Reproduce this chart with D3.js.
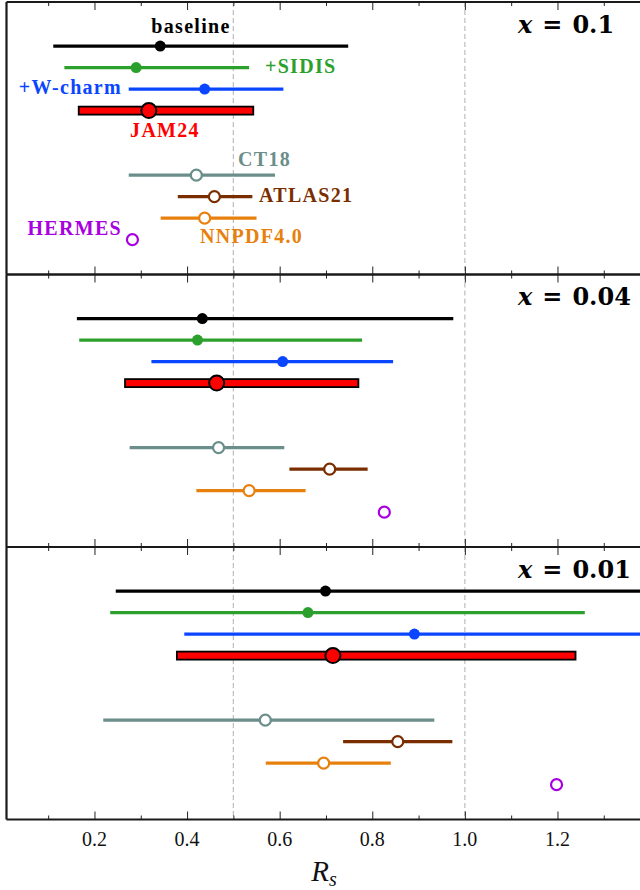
<!DOCTYPE html>
<html>

<head>
	<meta charset='utf-8'>
	<style>
		body {
			margin: 0;
			background-color: white;
		}

		svg {
			display: block;
		}
	</style>
</head>

<body>
	<svg></svg>
	<script src="https://d3js.org/d3.v7.min.js"></script>
	<script>
		// values
		var seriesNames = ['baseline', '+SIDIS', '+W-charm', 'JAM24', 'CT18', 'ATLAS21', 'NNPDF4.0', 'HERMES'];
		var panelTitles = ['0.1', '0.04', '0.01'];
		var xTicks = [0.2, 0.4, 0.6, 0.8, 1.0, 1.2, 1.4];
		var xMinorTicks = [0.1, 0.3, 0.5, 0.7, 0.9, 1.1, 1.3];
		var refLines = [0.5, 1.0];

		// one row per panel, one entry per series (HERMES has no band)
		var loValues = [
			[0.111, 0.135, 0.274, 0.166, 0.274, 0.380, 0.343, null],
			[0.162, 0.167, 0.323, 0.266, 0.276, 0.621, 0.420, null],
			[0.246, 0.234, 0.394, 0.378, 0.219, 0.737, 0.570, null]];
		var midValues = [
			[0.342, 0.290, 0.438, 0.3175, 0.420, 0.459, 0.438, 0.282],
			[0.433, 0.4225, 0.6065, 0.464, 0.468, 0.708, 0.534, 0.826],
			[0.699, 0.661, 0.891, 0.715, 0.569, 0.855, 0.695, 1.198]];
		var hiValues = [
			[0.748, 0.534, 0.608, 0.543, 0.590, 0.541, 0.550, null],
			[0.975, 0.778, 0.845, 0.770, 0.610, 0.790, 0.656, null],
			[1.45, 1.259, 1.5, 1.239, 0.934, 0.973, 0.840, null]];

		var colors = ['#000000', '#2ca02c', '#0a45ff', '#ff0000', '#6b8e8a', '#7a2e00', '#e8800e', '#a800e0'];
		var kinds = ['dot', 'dot', 'dot', 'bar', 'open', 'open', 'open', 'open'];

		var W = 640, H = 890;
		var left = 6.5, panelTop = 2, panelH = 272.5;
		var serif = "'Liberation Serif', 'DejaVu Serif', serif";
		var boldSerif = "'DejaVu Serif', serif";

		var svg = d3.select('svg').attr('width', W).attr('height', H);

		var x = d3.scaleLinear().domain([0.01, 1.4]).range([left, left + 463 * 1.39]);
		// slot 4 and 5 stay empty between the two groups
		var slot = function (i) { return i < 4 ? i : i + 2 };
		var y = d3.scaleLinear().domain([-2.05, 10.62]).range([0, panelH]);

		svg.append('defs').append('clipPath').attr('id', 'plotclip')
			.append('rect').attr('x', left).attr('y', 0).attr('width', W - left + 20).attr('height', panelH);

		panelTitles.forEach(function (title, p) {
			var g = svg.append('g').attr('transform', 'translate(0,' + (panelTop + p * panelH) + ')');

			// dashed reference lines
			g.selectAll('.ref').data(refLines).enter().append('line')
				.attr('x1', d => x(d)).attr('x2', d => x(d))
				.attr('y1', 0).attr('y2', panelH)
				.attr('stroke', '#bdbdbd').attr('stroke-width', 1.2).attr('stroke-dasharray', '5,3');

			var plot = g.append('g').attr('clip-path', 'url(#plotclip)');

			var rows = seriesNames.map(function (name, i) {
				return { name: name, i: i, lo: loValues[p][i], mid: midValues[p][i], hi: hiValues[p][i] };
			});

			// error bands as lines
			plot.selectAll('.err').data(rows.filter(d => d.lo !== null && kinds[d.i] !== 'bar')).enter().append('line')
				.attr('x1', d => x(d.lo)).attr('x2', d => x(d.hi))
				.attr('y1', d => y(slot(d.i))).attr('y2', d => y(slot(d.i)))
				.attr('stroke', d => colors[d.i]).attr('stroke-width', 3.2);

			// JAM24 box
			plot.selectAll('.box').data(rows.filter(d => kinds[d.i] === 'bar')).enter().append('rect')
				.attr('x', d => x(d.lo)).attr('width', d => x(d.hi) - x(d.lo))
				.attr('y', d => y(slot(d.i)) - 4).attr('height', 8)
				.attr('fill', d => colors[d.i]).attr('stroke', '#000').attr('stroke-width', 1.8);

			// central values
			plot.selectAll('.pt').data(rows).enter().append('circle')
				.attr('cx', d => x(d.mid)).attr('cy', d => y(slot(d.i)))
				.attr('r', d => kinds[d.i] === 'bar' ? 7.5 : 5.5)
				.attr('fill', d => kinds[d.i] === 'open' ? '#fff' : colors[d.i])
				.attr('stroke', d => kinds[d.i] === 'bar' ? '#000' : (kinds[d.i] === 'open' ? colors[d.i] : 'none'))
				.attr('stroke-width', d => kinds[d.i] === 'bar' ? 2 : 2.2);

			// ticks pointing inwards, top and bottom
			var bottomMajor = d3.axisBottom(x).tickValues(xTicks).tickSize(-8).tickFormat('');
			var bottomMinor = d3.axisBottom(x).tickValues(xMinorTicks).tickSize(-4).tickFormat('');
			var topMajor = d3.axisTop(x).tickValues(xTicks).tickSize(-8).tickFormat('');
			var topMinor = d3.axisTop(x).tickValues(xMinorTicks).tickSize(-4).tickFormat('');
			[bottomMajor, bottomMinor].forEach(function (ax) {
				g.append('g').attr('transform', 'translate(0,' + panelH + ')').call(ax);
			});
			[topMajor, topMinor].forEach(function (ax) {
				g.append('g').call(ax);
			});
			g.selectAll('.domain').remove();
			g.selectAll('.tick line').attr('stroke', '#222').attr('stroke-width', 1);

			// spines
			g.append('line').attr('x1', left).attr('x2', W + 5).attr('y1', 0).attr('y2', 0)
				.attr('stroke', '#1a1a1a').attr('stroke-width', 2.2);
			g.append('line').attr('x1', left).attr('x2', W + 5).attr('y1', panelH).attr('y2', panelH)
				.attr('stroke', '#1a1a1a').attr('stroke-width', 2.2);
			g.append('line').attr('x1', left).attr('x2', left).attr('y1', 0).attr('y2', panelH)
				.attr('stroke', '#1a1a1a').attr('stroke-width', 2.2);

			// panel title
			var t = g.append('text').attr('x', 518).attr('y', 30.5)
				.attr('font-family', boldSerif).attr('font-weight', 'bold').attr('font-size', 24)
				.attr('fill', '#000');
			t.append('tspan').attr('font-style', 'italic').text('x');
			t.append('tspan').attr('dx', 10).text('=');
			t.append('tspan').attr('dx', 10).text(title);
		});

		// series labels in the top panel
		var labelSpots = [
			{ x: 191, y: 33, anchor: 'middle' },
			{ x: 265, y: 73, anchor: 'start' },
			{ x: 122, y: 94, anchor: 'end' },
			{ x: 165, y: 137, anchor: 'middle' },
			{ x: 238, y: 165.5, anchor: 'start' },
			{ x: 259, y: 201.5, anchor: 'start' },
			{ x: 200, y: 243, anchor: 'start' },
			{ x: 122, y: 235, anchor: 'end' }];
		svg.append('g').selectAll('text').data(seriesNames).enter().append('text')
			.attr('x', (d, i) => labelSpots[i].x).attr('y', (d, i) => labelSpots[i].y)
			.attr('text-anchor', (d, i) => labelSpots[i].anchor)
			.attr('font-family', serif).attr('font-weight', 'bold').attr('font-size', 20)
			.attr('letter-spacing', 1.3)
			.attr('fill', (d, i) => colors[i])
			.text(d => d);

		// x tick labels under the last panel
		var bottom = panelTop + 3 * panelH;
		svg.append('g').selectAll('text').data(xTicks.filter(d => x(d) < W - 10)).enter().append('text')
			.attr('x', d => x(d)).attr('y', bottom + 26)
			.attr('text-anchor', 'middle').attr('font-family', serif).attr('font-size', 20).attr('fill', '#111')
			.text(d => d.toFixed(1));

		var xl = svg.append('text').attr('x', 324).attr('y', bottom + 61).attr('text-anchor', 'middle')
			.attr('font-family', serif).attr('font-style', 'italic').attr('font-size', 29).attr('fill', '#111');
		xl.append('tspan').text('R');
		xl.append('tspan').attr('font-size', 20).attr('dy', 5).text('s');
	</script>
</body>

</html>
